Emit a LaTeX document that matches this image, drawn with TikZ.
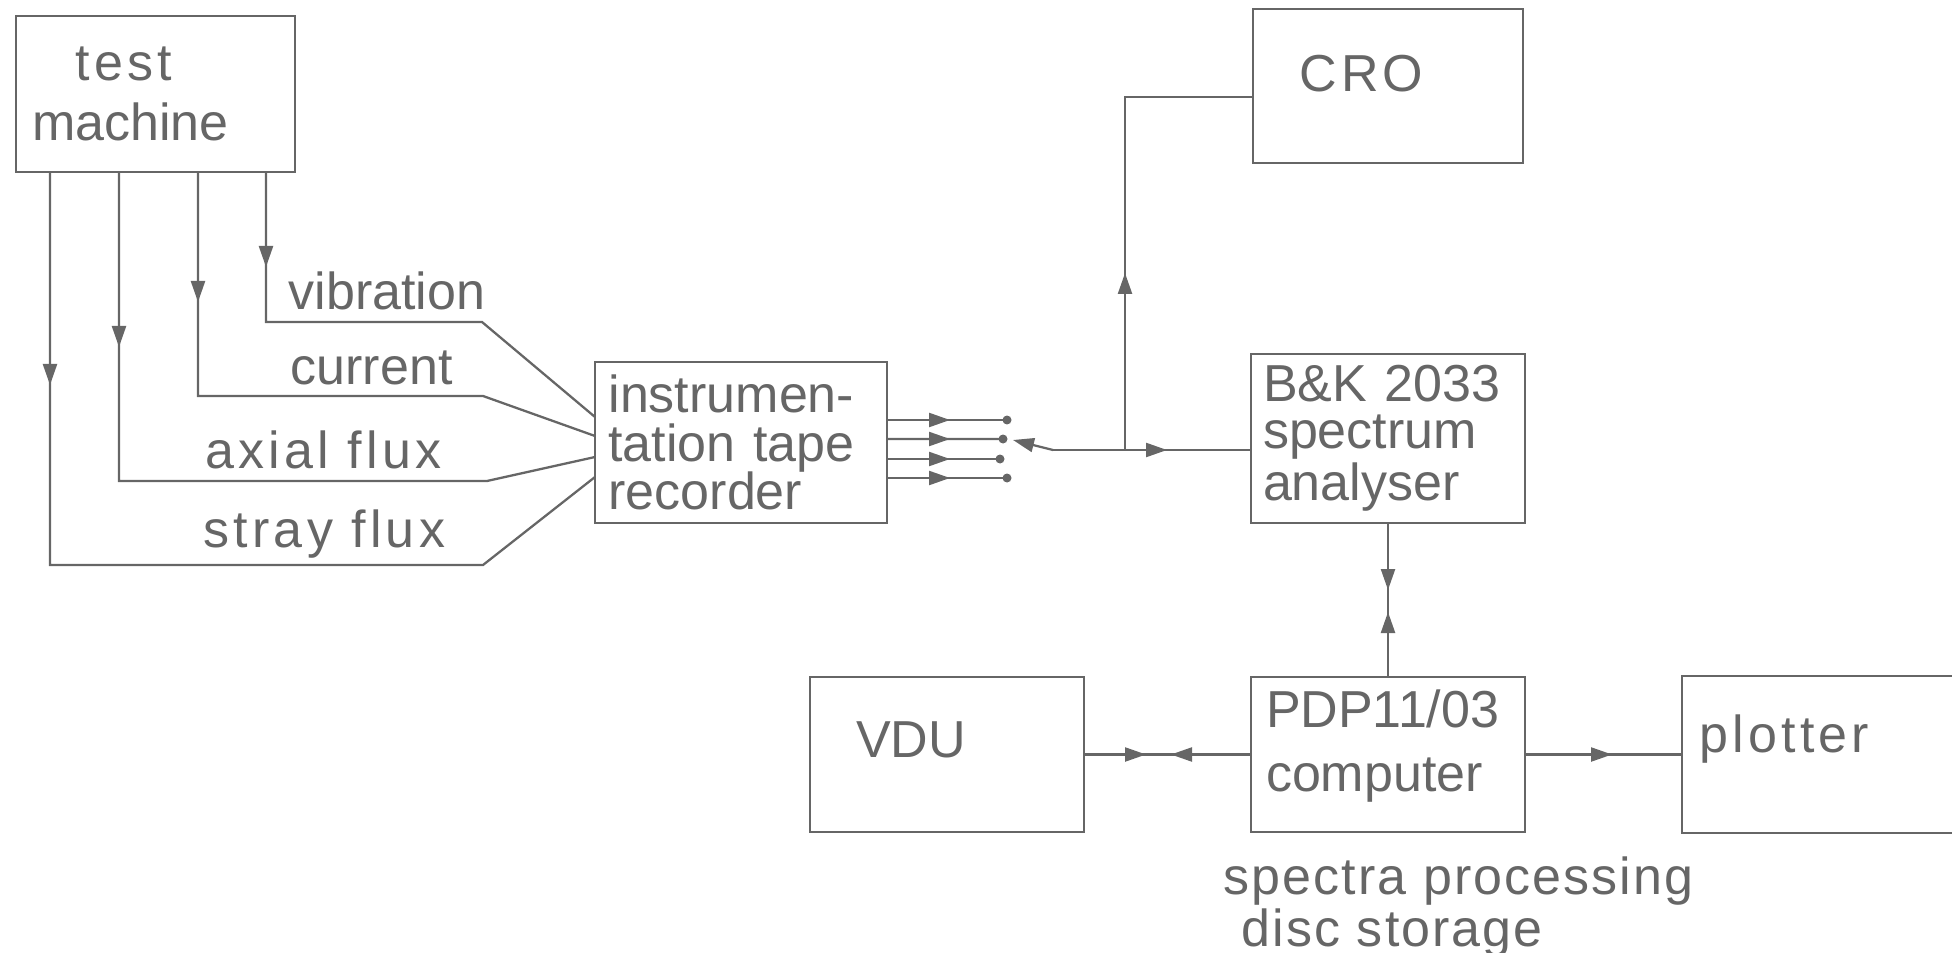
\documentclass[tikz,border=0pt]{standalone}
\usepackage{fontspec}
\setmainfont{Liberation Sans}
\newfontfamily\wide[LetterSpace=8]{Liberation Sans}
\newfontfamily\airy[LetterSpace=4]{Liberation Sans}
\usetikzlibrary{positioning, arrows.meta, decorations.markings}
\definecolor{ink}{HTML}{666666}

\begin{document}
\begin{tikzpicture}[
    every node/.style={font=\fontsize{14.8pt}{17pt}\selectfont, text=ink},
    linegap/.style={font=\fontsize{14.8pt}{#1}\selectfont},
    box/.style={rectangle, draw=ink, line width=0.75pt, inner ysep=0pt,
      outer sep=0pt, minimum width=2.74cm, minimum height=1.55cm, align=left},
    tag/.style={inner sep=0pt, anchor=base west},
    wire/.style={draw=ink, line width=0.65pt},
    >={Triangle[length=2.1mm, width=1.4mm]},
    flow/.style={postaction={decorate, decoration={markings,
        mark=at position #1 with {\arrow{>}}}}},
    backflow/.style={postaction={decorate, decoration={markings,
        mark=at position #1 with {\arrowreversed{>}}}}}]

  \useasboundingbox (0,0) rectangle (19.52,-9.53);

  % blocks
  \node[box, minimum width=2.79cm, minimum height=1.56cm, inner xsep=0.16cm,
    text width=2.47cm, linegap=17.07pt] (machine) at (1.555,-0.94)
    {\hspace*{0.44cm}{\wide test}\\machine};
  \node[box, minimum width=2.92cm, minimum height=1.61cm, inner xsep=0.135cm,
    text width=2.65cm, linegap=13.8pt] (tape) at (7.41,-4.425)
    {instrumen-\\tation tape\\recorder};
  \node[box, minimum height=1.69cm, inner xsep=0.12cm, text width=2.50cm,
    linegap=13.4pt] (ana) at (13.88,-4.385)
    {B\&K 2033\\spectrum\\analyser};
  \node[box, minimum width=2.70cm, minimum height=1.54cm, inner xsep=0.465cm,
    text width=1.77cm, text depth=7.1pt, above=1.91cm of ana] (cro) {\wide CRO};
  \node[box, inner xsep=0.15cm, text width=2.44cm, linegap=18.2pt,
    text depth=25.9pt, below=1.54cm of ana] (pc) {PDP11/03\\computer};
  \node[box, inner xsep=0.46cm, text width=1.82cm, text depth=8.5pt,
    left=1.67cm of pc] (vdu) {VDU};
  \node[box, minimum height=1.57cm, inner xsep=0.175cm, text width=2.39cm,
    text depth=11.9pt, right=1.57cm of pc] (plot) {\wide plotter};
  \node[inner sep=0pt, align=left, font=\airy\fontsize{14.8pt}{12.8pt}\selectfont,
    below right=0.24cm and -0.28cm of pc.south west] (store)
    {spectra processing\\\hspace*{0.18cm}disc storage};

  % signals from the machine
  \draw[wire, flow=0.95cm] ([xshift=2.50cm]machine.south west) |- (4.82,-3.22)
    -- ([yshift=2.55mm]tape.west);
  \draw[wire, flow=1.30cm] ([xshift=1.82cm]machine.south west) |- (4.83,-3.96)
    -- ([yshift=0.65mm]tape.west);
  \draw[wire, flow=1.75cm] ([xshift=1.03cm]machine.south west) |- (4.87,-4.81)
    -- ([yshift=-1.45mm]tape.west);
  \draw[wire, flow=2.13cm] ([xshift=0.34cm]machine.south west) |- (4.83,-5.65)
    -- ([yshift=-3.45mm]tape.west);

  \node[tag] (vib) at (2.88,-3.10) {vibration};
  \node[tag] (cur) at (2.90,-3.85) {current};
  \node[tag] (axi) at (2.05,-4.68) {\wide axial flux};
  \node[tag] (str) at (2.03,-5.47) {\wide stray flux};

  % recorder outputs and selector
  \foreach \dy/\ex [count=\i] in {0.225/10.07, 0.035/10.03, -0.165/10.00, -0.355/10.07}{
    \coordinate (out\i) at (\ex,{-4.425+\dy});
    \draw[wire, flow=0.63cm] ([yshift=\dy cm]tape.east) -- (out\i);
    \fill[ink] (out\i) circle (0.045);
  }
  \coordinate (pivot) at (10.53,-4.50);
  \coordinate (arm) at (10.13,-4.40);
  \coordinate (tap) at (11.25,-4.50);
  \draw[wire, ->] (pivot) -- (arm);
  \draw[wire, flow=1.14cm] (pivot) -- (pivot -| ana.west);
  \draw[wire, flow=1.77cm] (tap) |- ([yshift=-1.1mm]cro.west);

  % computer links
  \draw[wire, flow=0.67cm, backflow=0.89cm] (ana.south) -- (ana.south |- pc.north);
  \draw[wire, flow=0.62cm, backflow=0.87cm] (vdu.east) -- (pc.west);
  \draw[wire, flow=0.87cm] (pc.east) -- (pc.east -| plot.west);
\end{tikzpicture}
\end{document}
